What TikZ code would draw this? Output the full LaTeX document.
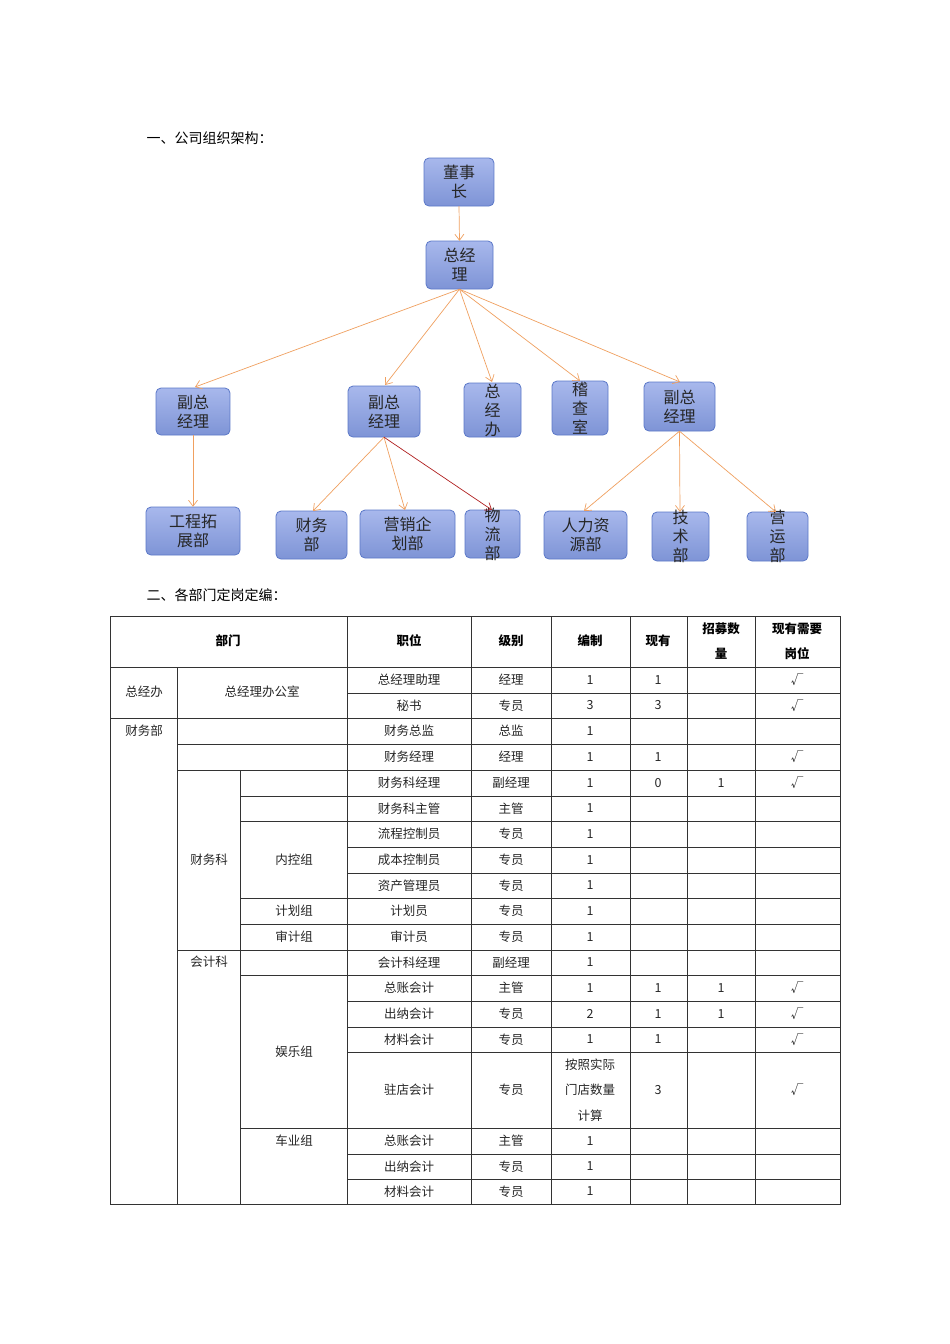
\documentclass[tikz,border=0pt]{standalone}
\usepackage{fontspec}
\setmainfont{Noto Sans CJK SC}
\usetikzlibrary{arrows.meta}
\definecolor{boxfill}{HTML}{8A9FDC}
\definecolor{boxtop}{HTML}{A8B8EC}
\definecolor{boxbot}{HTML}{7E94D6}
\definecolor{boxline}{HTML}{5B78C8}
\definecolor{arr}{HTML}{F0A060}
\definecolor{redarr}{HTML}{B02020}
\tikzset{
 box/.style={draw=boxline,top color=boxtop,bottom color=boxbot,rounded corners=5pt,line width=0.8pt},
 btxt/.style={font=\fontsize{16}{19}\selectfont,align=center,inner sep=0pt,text=black!85},
 con/.style={draw=arr,line width=0.7pt,-{Straight Barb[length=6pt,width=9pt]}},
 tc/.style={font=\fontsize{12.5}{25.5}\selectfont,align=center,inner sep=0pt,text=black!85},
 th/.style={font=\fontsize{12.5}{25.5}\selectfont\bfseries,align=center,inner sep=0pt},
 tl/.style={line width=0.6pt,draw=black!80}
}
\newcommand{\orgbox}[6]{% name, x1,x2,y1,y2,text
 \draw[box] (#2,#4) rectangle (#3,#5);
 \node[minimum width={#3-#2},minimum height={#5-#4},inner sep=0pt] (#1) at ({(#2+#3)/2},{(#4+#5)/2}) {};
 \node[btxt] at (#1) {#6};}
\begin{document}
\begin{tikzpicture}[x=1pt,y=-1pt]
\useasboundingbox (0,0) rectangle (950,1344);
\fill[white] (0,0) rectangle (950,1344);
\node[anchor=west,font=\fontsize{14}{16}\selectfont] (h1) at (143,138) {一、公司组织架构：};
\node[anchor=west,font=\fontsize{14}{16}\selectfont] (h2) at (143,595) {二、各部门定岗定编：};
% org chart
\orgbox{dsz}{424}{494}{158}{206}{董事\\长}
\orgbox{zjl}{426}{493}{241}{289}{总经\\理}
\orgbox{fz1}{156}{230}{388}{435}{副总\\经理}
\orgbox{fz2}{348}{420}{386}{437}{副总\\经理}
\orgbox{zjb}{464}{521}{383}{437}{总\\经\\办}
\orgbox{jcs}{552}{608}{381}{435}{稽\\查\\室}
\orgbox{fz3}{644}{715}{382}{431}{副总\\经理}
\orgbox{gc}{146}{240}{507}{555}{工程拓\\展部}
\orgbox{cw}{276}{347}{511}{559}{财务\\部}
\orgbox{yx}{360}{455}{510}{558}{营销企\\划部}
\orgbox{wl}{465}{520}{510}{558}{物\\流\\部}
\orgbox{rl}{544}{627}{511}{559}{人力资\\源部}
\orgbox{js}{652}{709}{512}{561}{技\\术\\部}
\orgbox{yy}{747}{808}{512}{561}{营\\运\\部}
\draw[con] (dsz.south) -- (zjl.north);
\draw[con] (zjl.south) -- (195,387);
\draw[con] (zjl.south) -- (385,385);
\draw[con] (zjl.south) -- (492,382);
\draw[con] (zjl.south) -- (580,381);
\draw[con] (zjl.south) -- (680,382);
\draw[con] (fz1.south) -- (gc.north);
\draw[con] (fz2.south) -- (313,511);
\draw[con] (fz2.south) -- (405,510);
\draw[con,draw=redarr] (fz2.south) -- (492,510);
\draw[con] (fz3.south) -- (584,511);
\draw[con] (fz3.south) -- (680,512);
\draw[con] (fz3.south) -- (776,512);
% table lines
\draw[tl] (110,616) rectangle (840,1204);
\draw[tl] (110,667) -- (840,667);
\draw[tl] (110,718) -- (840,718);
\foreach \y in {693,847,873,1001,1027,1052,1154,1179} \draw[tl] (347,\y) -- (840,\y);
\foreach \y in {744,770,950} \draw[tl] (177,\y) -- (840,\y);
\foreach \y in {796,821,898,924,975,1128} \draw[tl] (240,\y) -- (840,\y);
\draw[tl] (177,667) -- (177,1204);
\draw[tl] (240,770) -- (240,1204);
\foreach \x in {347,471,551,630,687,755} \draw[tl] (\x,616) -- (\x,1204);
% header
\node[th] at (228,641) {部门};
\node[th] at (409,641) {职位};
\node[th] at (511,641) {级别};
\node[th] at (590,641) {编制};
\node[th] at (658,641) {现有};
\node[th] at (721,641) {招募数\\量};
\node[th] at (797,641) {现有需要\\岗位};
% group cells
\node[tc] at (144,692) {总经办};
\node[tc] at (262,692) {总经理办公室};
\node[tc] at (144,731) {财务部};
\node[tc] at (209,860) {财务科};
\node[tc] at (294,860) {内控组};
\node[tc] at (294,911) {计划组};
\node[tc] at (294,937) {审计组};
\node[tc] at (209,962) {会计科};
\node[tc] at (294,1052) {娱乐组};
\node[tc] at (294,1141) {车业组};
% rows
\foreach \ya/\yb/\p/\l/\b/\c/\z/\n in {
667/693/总经理助理/经理/1/1//√,
693/718/秘书/专员/3/3//√,
718/744/财务总监/总监/1///,
744/770/财务经理/经理/1/1//√,
770/796/财务科经理/副经理/1/0/1/√,
796/821/财务科主管/主管/1///,
821/847/流程控制员/专员/1///,
847/873/成本控制员/专员/1///,
873/898/资产管理员/专员/1///,
898/924/计划员/专员/1///,
924/950/审计员/专员/1///,
950/975/会计科经理/副经理/1///,
975/1001/总账会计/主管/1/1/1/√,
1001/1027/出纳会计/专员/2/1/1/√,
1027/1052/材料会计/专员/1/1//√,
1052/1128/驻店会计/专员/{按照实际\\门店数量\\计算}/3//√,
1128/1154/总账会计/主管/1///,
1154/1179/出纳会计/专员/1///,
1179/1204/材料会计/专员/1///}{
 \pgfmathsetmacro\ym{(\ya+\yb)/2}
 \node[tc] at (409,\ym) {\p};
 \node[tc] at (511,\ym) {\l};
 \node[tc] at (590,\ym) {\b};
 \node[tc] at (658,\ym) {\c};
 \node[tc] at (721,\ym) {\z};
 \node[tc] at (797,\ym) {\n};
}
\end{tikzpicture}
\end{document}
